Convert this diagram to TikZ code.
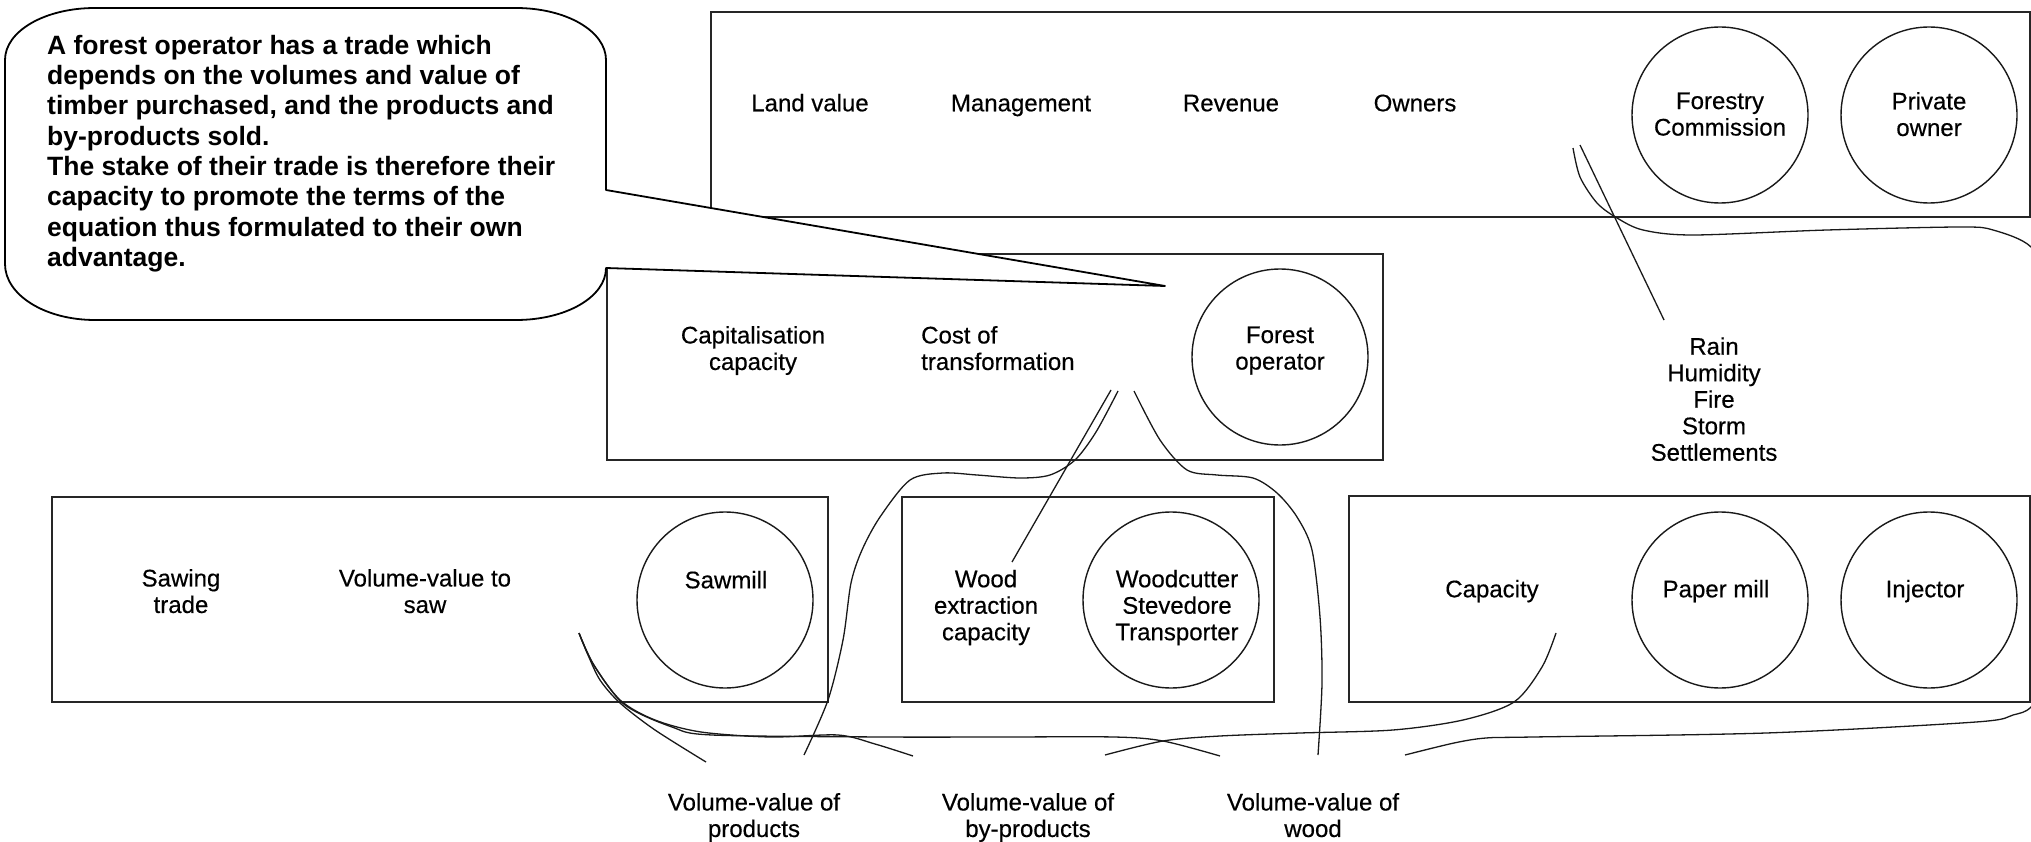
\documentclass[tikz,border=0pt]{standalone}
\usepackage{fontspec}
\setmainfont{Liberation Sans}
\begin{document}
\begin{tikzpicture}[x=1pt,y=-1pt,
  box/.style={draw=black!85, line width=1.7pt, rectangle, inner sep=0pt},
  actor/.style={draw=black!90, line width=1.4pt, circle, minimum size=176pt, inner sep=0pt},
  lbl/.style={font=\addfontfeature{FakeBold=0.4}\fontsize{24}{26.5}\selectfont, align=center, inner sep=0pt,
    execute at begin node=\strut, execute at end node=\strut},
  link/.style={line width=1.3pt, draw=black!90},
  callout/.style={draw=black, line width=1.8pt, fill=white, line join=round},
  note/.style={font=\bfseries\fontsize{26.5}{30.3}\selectfont, align=left, inner sep=0pt, anchor=west},
]
\useasboundingbox (0,0) rectangle (2031,842);
\clip (0,0) rectangle (2031,842);

% boxes
\node[box, minimum width=1319pt, minimum height=205pt] (landbox) at (1370.5,114.5) {};
\node[box, minimum width=776pt, minimum height=206pt] (opbox) at (995,357) {};
\node[box, minimum width=776pt, minimum height=205pt] (sawbox) at (440,599.5) {};
\node[box, minimum width=372pt, minimum height=205pt] (cutbox) at (1088,599.5) {};
\node[box, minimum width=681pt, minimum height=206pt] (paperbox) at (1689.5,599) {};

% actors
\node[actor] (forestry) at (1720,115) {};
\node[actor] (private) at (1929,115) {};
\node[actor] (operator) at (1280,357) {};
\node[actor] (sawmill) at (725,600) {};
\node[actor] (woodcutter) at (1171,600) {};
\node[actor] (papermill) at (1720,600) {};
\node[actor] (injector) at (1929,600) {};

% labels
\node[lbl] (landvalue) at (810,106) {Land value};
\node[lbl] (management) at (1021,106) {Management};
\node[lbl] (revenue) at (1231,106) {Revenue};
\node[lbl] (owners) at (1415,106) {Owners};
\node[lbl] (forestryt) at (1720,118) {Forestry\\Commission};
\node[lbl] (privatet) at (1929,118) {Private\\owner};

\node[lbl] (capital) at (753,352) {Capitalisation\\capacity};
\node[lbl, align=left, anchor=west] (cost) at (921,352) {Cost of\\transformation};
\node[lbl] (operatort) at (1280,352) {Forest\\operator};

\node[lbl] (sawing) at (181,595) {Sawing\\trade};
\node[lbl] (tosaw) at (425,595) {Volume-value to\\saw};
\node[lbl] (sawmillt) at (726,583) {Sawmill};
\node[lbl] (extract) at (986,609) {Wood\\extraction\\capacity};
\node[lbl] (cuttert) at (1177,609) {Woodcutter\\Stevedore\\Transporter};
\node[lbl] (capacity) at (1492,592) {Capacity};
\node[lbl] (papert) at (1716,592) {Paper mill};
\node[lbl] (injectort) at (1925,592) {Injector};

\node[lbl] (hazards) at (1714,403) {Rain\\Humidity\\Fire\\Storm\\Settlements};

\node[lbl] (vproducts) at (754,819) {Volume-value of\\products};
\node[lbl] (vbyproducts) at (1028,819) {Volume-value of\\by-products};
\node[lbl] (vwood) at (1313,819) {Volume-value of\\wood};

% connector end points
\coordinate (own-a) at (1573,148);
\coordinate (own-b) at (1580,145);
\coordinate (haz-e) at (1664,320);
\coordinate (wood-e1) at (1405,755);
\coordinate (cap-s) at (1556,633);
\coordinate (byp-e2) at (1105,755);
\coordinate (saw-s) at (579,633);
\coordinate (prod-e1) at (706,762);
\coordinate (byp-e1) at (913,756);
\coordinate (wood-e2) at (1220,756);
\coordinate (cost-a) at (1111,390);
\coordinate (cost-b) at (1118,391);
\coordinate (cost-c) at (1134,391);
\coordinate (ext-e) at (1012,562);
\coordinate (prod-e2) at (804,755);
\coordinate (wood-e3) at (1318,755);

% connectors
\draw[link] (own-b) -- (haz-e);
\draw[link] plot[smooth] coordinates {(own-a) (1580,177) (1597,203) (1617,218) (1643,230) (1693,235) (1827,230) (1960,227) (1993,230) (2031,247) (2052,290) (2062,470) (2052,675) (2031,707) (2013,715) (1976,722) (1766,733) (1533,737) (1486,738) (1454,743) (wood-e1)};
\draw[link] plot[smooth] coordinates {(cap-s) (1542,667) (1514,702) (1463,720) (1393,730) (1300,733) (1220,736) (1163,741) (byp-e2)};
\draw[link] plot[smooth] coordinates {(saw-s) (588,655) (600,680) (620,703) (655,730) (prod-e1)};
\draw[link] plot[smooth] coordinates {(saw-s) (592,662) (620,700) (655,720) (701,732) (770,737) (838,735) (875,744) (byp-e1)};
\draw[link] plot[smooth] coordinates {(saw-s) (595,667) (625,705) (672,727) (712,735) (884,737) (1000,737) (1114,737) (1163,741) (wood-e2)};
\draw[link] (cost-a) -- (ext-e);
\draw[link] plot[smooth] coordinates {(cost-b) (1096,432) (1075,460) (1050,475) (1020,478) (977,475) (943,473) (910,480) (880,517) (862,550) (851,583) (843,640) (828,700) (prod-e2)};
\draw[link] plot[smooth] coordinates {(cost-c) (1160,440) (1187,470) (1217,475) (1253,478) (1277,493) (1297,517) (1312,550) (1320,617) (1322,683) (wood-e3)};

% callout
\coordinate (tip) at (1165,286);
\draw[callout] (5,60) .. controls (5,31) and (45,8) .. (95,8) -- (516,8)
  .. controls (566,8) and (606,31) .. (606,60) -- (606,190) -- (tip) -- (606,268)
  .. controls (606,297) and (566,320) .. (516,320) -- (95,320)
  .. controls (45,320) and (5,295) .. (5,264) -- cycle;
\node[note] (notetext) at (47,153.5) {A forest operator has a trade which\\depends on the volumes and value of\\timber purchased, and the products and\\by-products sold.\\The stake of their trade is therefore their\\capacity to promote the terms of the\\equation thus formulated to their own\\advantage.};
\end{tikzpicture}
\end{document}
